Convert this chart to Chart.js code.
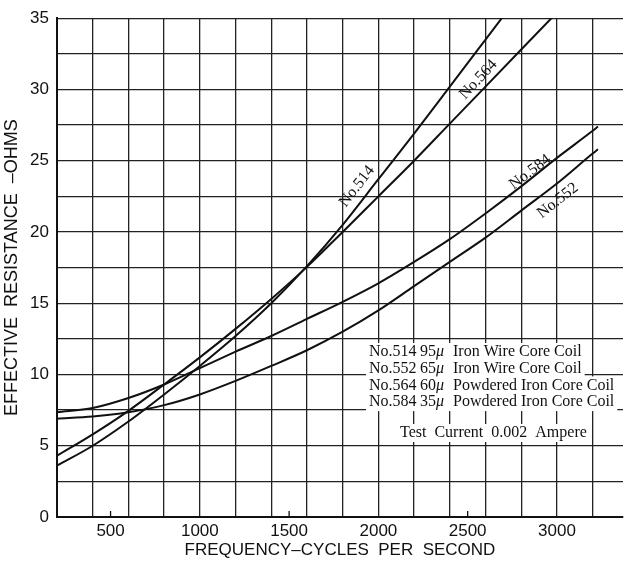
<!DOCTYPE html>
<html>
<head>
<meta charset="utf-8">
<script src="https://cdn.jsdelivr.net/npm/chart.js@4/dist/chart.umd.min.js"></script>
<style>
  body { margin: 0; background: #fff; }
  #wrap { width: 627px; height: 566px; }
</style>
</head>
<body>
<div id="wrap"><canvas id="chart"></canvas></div>
<script>
// frequency (cycles per second) at which each curve was read
var freqs = [200, 400, 600, 800, 1000, 1200, 1400, 1600, 1800, 2000, 2200, 2400, 2600, 2800, 3000, 3200, 3230];

// effective resistance, ohms
var r514 = [3.6, 5.0, 6.7, 8.6, 10.6, 12.7, 15.0, 17.6, 20.5, 23.7, 26.9, 30.2, 33.5, 36.8, null, null, null];
var r552 = [6.9, 7.05, 7.35, 7.85, 8.6, 9.55, 10.6, 11.7, 13.0, 14.5, 16.2, 17.9, 19.6, 21.5, 23.4, 25.5, 25.8];
var r564 = [4.3, 5.8, 7.45, 9.3, 11.2, 13.2, 15.3, 17.55, 20.0, 22.5, 25.0, 27.6, 30.2, 32.8, 35.4, null, null];
var r584 = [7.35, 7.65, 8.35, 9.3, 10.45, 11.6, 12.7, 13.9, 15.1, 16.4, 17.9, 19.5, 21.3, 23.2, 25.2, 27.1, 27.4];

var coilNames = ['No.514', 'No.552', 'No.564', 'No.584'];
var coilPerm = ['95', '65', '60', '35'];
var coilTypes = ['Iron Wire Core Coil', 'Iron Wire Core Coil', 'Powdered Iron Core Coil', 'Powdered Iron Core Coil'];
var testNote = 'Test  Current  0.002  Ampere';

var xLabelValues = [500, 1000, 1500, 2000, 2500, 3000];
var yLabelValues = [0, 5, 10, 15, 20, 25, 30, 35];

function pts(vals) {
  return freqs.map(function (f, i) { return { x: f, y: vals[i] }; });
}

function curve(vals) {
  return {
    data: pts(vals),
    borderColor: '#111',
    borderWidth: 2,
    pointRadius: 0,
    fill: false,
    cubicInterpolationMode: 'monotone',
    spanGaps: false
  };
}

// where the curve names sit (in chart units) and how they are tilted
var nameSpots = [
  { i: 0, f: 1880, r: 23.2, rot: -52 },
  { i: 2, f: 2560, r: 30.7, rot: -47 },
  { i: 3, f: 2850, r: 24.2, rot: -37 },
  { i: 1, f: 3005, r: 22.2, rot: -38 }
];

var notes = {
  id: 'notes',
  afterDraw: function (chart) {
    var c = chart.ctx, x = chart.scales.x, y = chart.scales.y, a = chart.chartArea;
    c.save();

    // short marks for the 500s that fall between grid lines
    c.strokeStyle = '#111';
    c.lineWidth = 1.3;
    [500, 1500, 2500].forEach(function (v) {
      var px = x.getPixelForValue(v);
      c.beginPath();
      c.moveTo(px, a.bottom);
      c.lineTo(px, a.bottom - 6);
      c.stroke();
    });

    c.fillStyle = '#111';
    c.font = '16px "Liberation Serif"';
    c.textBaseline = 'middle';
    c.textAlign = 'center';
    nameSpots.forEach(function (s) {
      c.save();
      c.translate(x.getPixelForValue(s.f), y.getPixelForValue(s.r));
      c.rotate(s.rot * Math.PI / 180);
      c.fillText(coilNames[s.i], 0, 0);
      c.restore();
    });

    // key block
    c.textAlign = 'left';
    var left = a.left + 312;
    for (var i = 0; i < 4; i++) {
      var yc = 352 + i * 16.7;
      c.font = '16px "Liberation Serif"';
      var end = left + 84 + c.measureText(coilTypes[i]).width;
      c.fillStyle = '#fff';
      c.fillRect(left - 3, yc - 9, end - left + 6, 18);
      c.fillStyle = '#111';
      c.fillText(coilNames[i], left, yc);
      c.fillText(coilPerm[i], left + 51, yc);
      c.fillText(coilTypes[i], left + 84, yc);
      c.font = 'italic 16px "Liberation Serif"';
      c.fillText('\u03bc', left + 67, yc);
    }
    c.font = '16px "Liberation Serif"';
    var tw = c.measureText(testNote).width;
    c.fillStyle = '#fff';
    c.fillRect(left + 28, 424, tw + 6, 18);
    c.fillStyle = '#111';
    c.fillText(testNote, left + 31, 433);

    c.restore();
  }
};

new Chart(document.getElementById('chart'), {
  type: 'line',
  data: {
    datasets: [curve(r514), curve(r552), curve(r564), curve(r584)]
  },
  options: {
    responsive: true,
    maintainAspectRatio: false,
    animation: false,
    layout: { padding: { top: 2, right: 0, left: 0, bottom: 0 } },
    plugins: { legend: { display: false }, tooltip: { enabled: false } },
    scales: {
      x: {
        type: 'linear',
        min: 200,
        max: 3370,
        afterFit: function (s) { s.height = 49; },
        border: { color: '#111', width: 2 },
        grid: {
          drawTicks: false,
          lineWidth: 1.3,
          color: function (ctx) {
            return ctx.tick && ctx.tick.value % 200 === 0 ? '#222' : 'rgba(0,0,0,0)';
          }
        },
        ticks: {
          stepSize: 100,
          autoSkip: false,
          maxRotation: 0,
          padding: 4,
          color: '#111',
          font: { family: 'Liberation Sans', size: 17 },
          callback: function (v) { return xLabelValues.indexOf(v) >= 0 ? String(v) : ''; }
        },
        title: {
          display: true,
          text: 'FREQUENCY\u2013CYCLES  PER  SECOND',
          color: '#111',
          font: { family: 'Liberation Sans', size: 17 },
          padding: { top: 0, bottom: 5 }
        }
      },
      y: {
        min: 0,
        max: 35,
        afterFit: function (s) { s.width = 57; },
        border: { color: '#111', width: 2 },
        grid: { drawTicks: false, lineWidth: 1.3, color: '#222' },
        ticks: {
          stepSize: 2.5,
          autoSkip: false,
          padding: 8,
          color: '#111',
          font: { family: 'Liberation Sans', size: 17 },
          callback: function (v) { return yLabelValues.indexOf(v) >= 0 ? String(v) : ''; }
        },
        title: {
          display: true,
          text: 'EFFECTIVE  RESISTANCE  \u2013OHMS',
          color: '#111',
          font: { family: 'Liberation Sans', size: 18 },
          padding: { top: 1, bottom: 0 }
        }
      }
    }
  },
  plugins: [notes]
});
</script>
</body>
</html>
